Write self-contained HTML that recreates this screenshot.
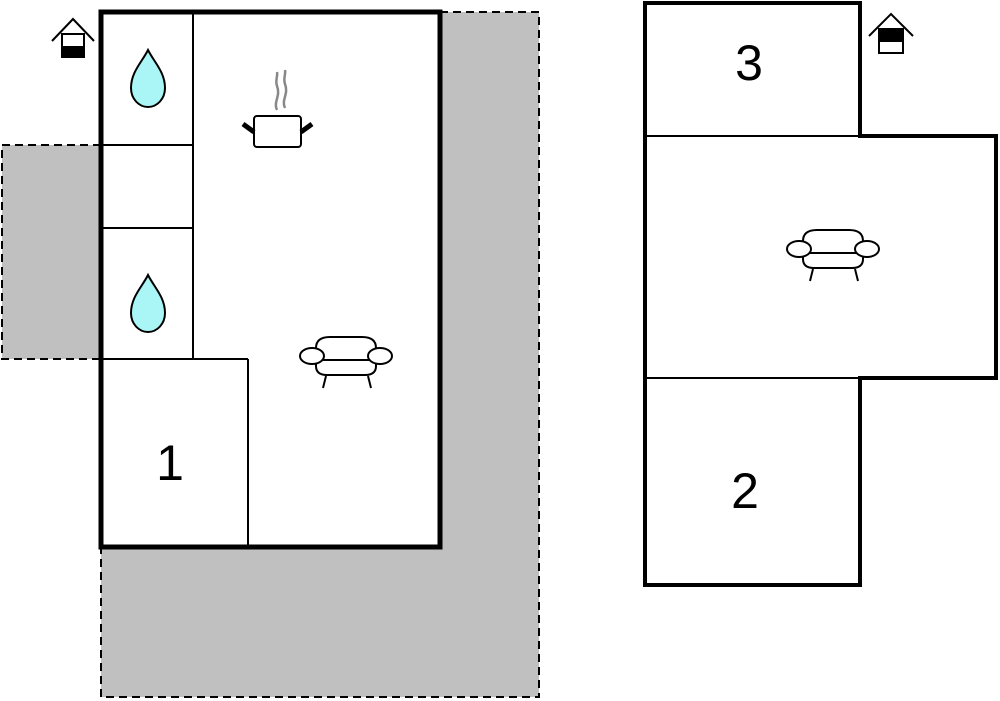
<!DOCTYPE html>
<html><head><style>body{margin:0;background:#fff}svg{display:block}</style></head><body>
<svg width="1000" height="701" viewBox="0 0 1000 701" xmlns="http://www.w3.org/2000/svg" font-family="Liberation Sans, sans-serif">
<g fill="#c0c0c0" stroke="#000" stroke-width="2" stroke-dasharray="8,5">
<path d="M440,12 L539,12 L539,697 L101,697 L101,547 L440,547 Z"/>
<path d="M101,145 L2,145 L2,359 L101,359 Z"/>
</g>
<rect x="101" y="12" width="339" height="535" fill="#fff" stroke="#000" stroke-width="5"/>
<g stroke="#000" stroke-width="2" fill="none">
<line x1="193" y1="12" x2="193" y2="359"/>
<line x1="101" y1="145" x2="193" y2="145"/>
<line x1="101" y1="228" x2="193" y2="228"/>
<line x1="101" y1="359" x2="248" y2="359"/>
<line x1="248" y1="359" x2="248" y2="547"/>
</g>
<path d="M645,3 L860,3 L860,136 L996,136 L996,378 L860,378 L860,585 L645,585 Z" fill="#fff" stroke="#000" stroke-width="4"/>
<g stroke="#000" stroke-width="2"><line x1="645" y1="136" x2="860" y2="136"/><line x1="645" y1="378" x2="860" y2="378"/></g>
<g font-size="50" text-anchor="middle" fill="#000"><text x="170" y="480">1</text><text x="745" y="508">2</text><text x="749" y="80">3</text></g>
<!-- drops -->
<g fill="#aaf6f6" stroke="#000" stroke-width="2">
<path d="M148,50 C142,62 131,72 131,88 C131,99 139,107 148,107 C157,107 165,99 165,88 C165,72 154,62 148,50 Z"/>
<path d="M148,275 C142,287 131,297 131,313 C131,324 139,332 148,332 C157,332 165,324 165,313 C165,297 154,287 148,275 Z"/>
</g>
<!-- pot -->
<g stroke="#888" stroke-width="2.5" fill="none"><path d="M277,110 C273,102 281,96 277,86 C275,80 278,76 277,72"/><path d="M285,108 C281,100 289,94 285,84 C283,78 286,74 285,70"/></g>
<rect x="254" y="116" width="47" height="31" rx="3" fill="#fff" stroke="#000" stroke-width="2"/>
<g stroke="#000" stroke-width="5"><line x1="243" y1="124" x2="254" y2="132"/><line x1="312" y1="124" x2="301" y2="132"/></g>
<!-- sofas -->
<g id="s" fill="#fff" stroke="#000" stroke-width="2">
<path d="M316,360 L316,348 Q316,337 330,337 L362,337 Q376,337 376,348 L376,360 Z"/>
<path d="M316,360 L376,360 L376,366 Q376,375 365,375 L327,375 Q316,375 316,366 Z"/>
<ellipse cx="312" cy="356" rx="12" ry="8"/><ellipse cx="380" cy="356" rx="12" ry="8"/>
<line x1="326" y1="376" x2="323" y2="388"/><line x1="368" y1="376" x2="371" y2="388"/>
</g>
<use href="#s" transform="translate(487,-107)"/>
<!-- house icons -->
<g stroke="#000" stroke-width="2" fill="none">
<polyline points="52,41 73,19 94,41"/><rect x="62" y="34" width="22" height="23" fill="#fff"/>
<rect x="62" y="47" width="22" height="10" fill="#000"/>
<polyline points="869,36 891,14 913,36"/><rect x="879" y="29" width="24" height="24" fill="#fff"/>
<rect x="879" y="29" width="24" height="12" fill="#000"/>
</g>
</svg>
</body></html>
